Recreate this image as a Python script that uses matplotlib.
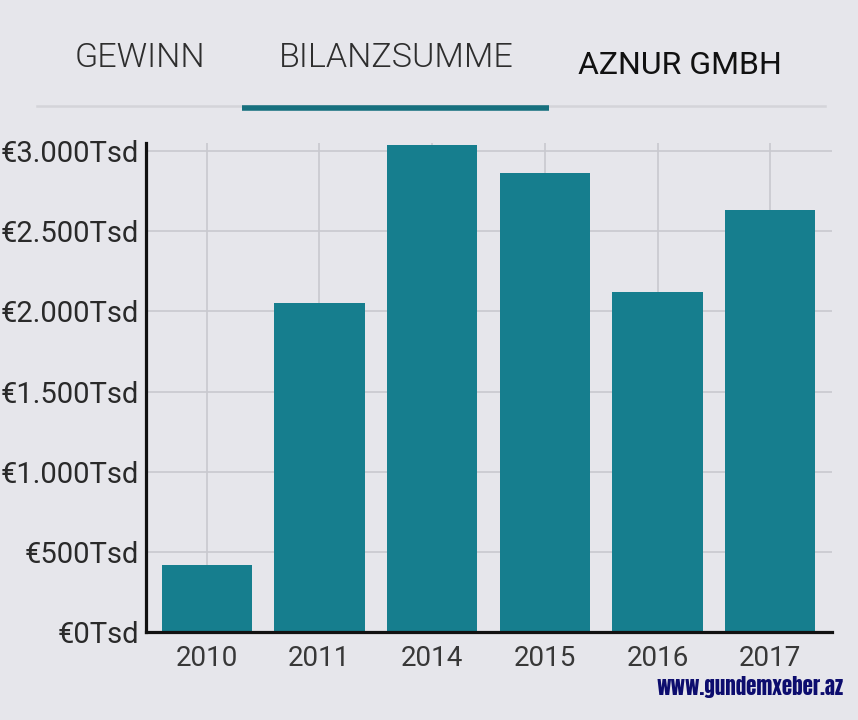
import matplotlib.pyplot as plt
from matplotlib.lines import Line2D

# data (in Tsd EUR)
years = ['2010', '2011', '2014', '2015', '2016', '2017']
bilanzsumme = [415, 2050, 3040, 2860, 2120, 2635]
y_ticks = [0, 500, 1000, 1500, 2000, 2500, 3000]
y_labels = ['€0Tsd', '€500Tsd', '€1.000Tsd', '€1.500Tsd', '€2.000Tsd', '€2.500Tsd', '€3.000Tsd']
tabs = ['GEWINN', 'BILANZSUMME', 'AZNUR GMBH']

bg = '#e6e6eb'
teal = '#167e8e'
plt.rcParams['font.family'] = ['Roboto', 'DejaVu Sans']

fig = plt.figure(figsize=(8.58, 7.2), dpi=100, facecolor=bg)
ax = fig.add_axes([0.170, 0.1222, 0.800, 0.6792], facecolor=bg)

x = range(len(years))
ax.bar(x, bilanzsumme, width=0.8, color=teal, zorder=3)

ax.set_xlim(-0.54, 5.55)
ax.set_ylim(0, 3050)
ax.set_yticks(y_ticks)
ax.set_yticklabels(y_labels)
ax.set_xticks(list(x))
ax.set_xticklabels(years)
ax.tick_params(axis='x', length=0, labelsize=20, colors='#383838', pad=9)
ax.tick_params(axis='y', length=0, labelsize=21, colors='#2a2a2a', pad=5)
for lab in ax.get_yticklabels():
    lab.set_fontweight(350)
for lab in ax.get_xticklabels():
    lab.set_fontweight(350)

ax.grid(True, color='#c9c9cf', linewidth=1.2, zorder=0)
for s in ['top', 'right']:
    ax.spines[s].set_visible(False)
for s in ['left', 'bottom']:
    ax.spines[s].set_linewidth(2.3)
    ax.spines[s].set_color('#111111')
    ax.spines[s].set_zorder(4)

# tab header
fig.text(140 / 858, 1 - 58 / 720, tabs[0], ha='center', va='center', fontsize=24.5,
         color='#2e2e2e', fontweight=300)
fig.text(396 / 858, 1 - 58 / 720, tabs[1], ha='center', va='center', fontsize=24.5,
         color='#2e2e2e', fontweight=300)
fig.text(680 / 858, 1 - 65 / 720, tabs[2], ha='center', va='center', fontsize=23,
         color='#111111', fontweight=400)
fig.add_artist(Line2D([37 / 858, 825 / 858], [1 - 106 / 720] * 2, color='#d4d4d9',
                      linewidth=1.8, transform=fig.transFigure))
fig.add_artist(Line2D([242 / 858, 549 / 858], [1 - 107.5 / 720] * 2, color='#17707e',
                      linewidth=4, transform=fig.transFigure, solid_capstyle='butt'))

# watermark
fig.text(843 / 858, 1 - 687 / 720, 'www.gundemxeber.az', ha='right', va='center',
         fontsize=15, color='#0d0d6e', family=['Anton', 'DejaVu Sans'])

fig.savefig('out.png', dpi=100, facecolor=bg)
